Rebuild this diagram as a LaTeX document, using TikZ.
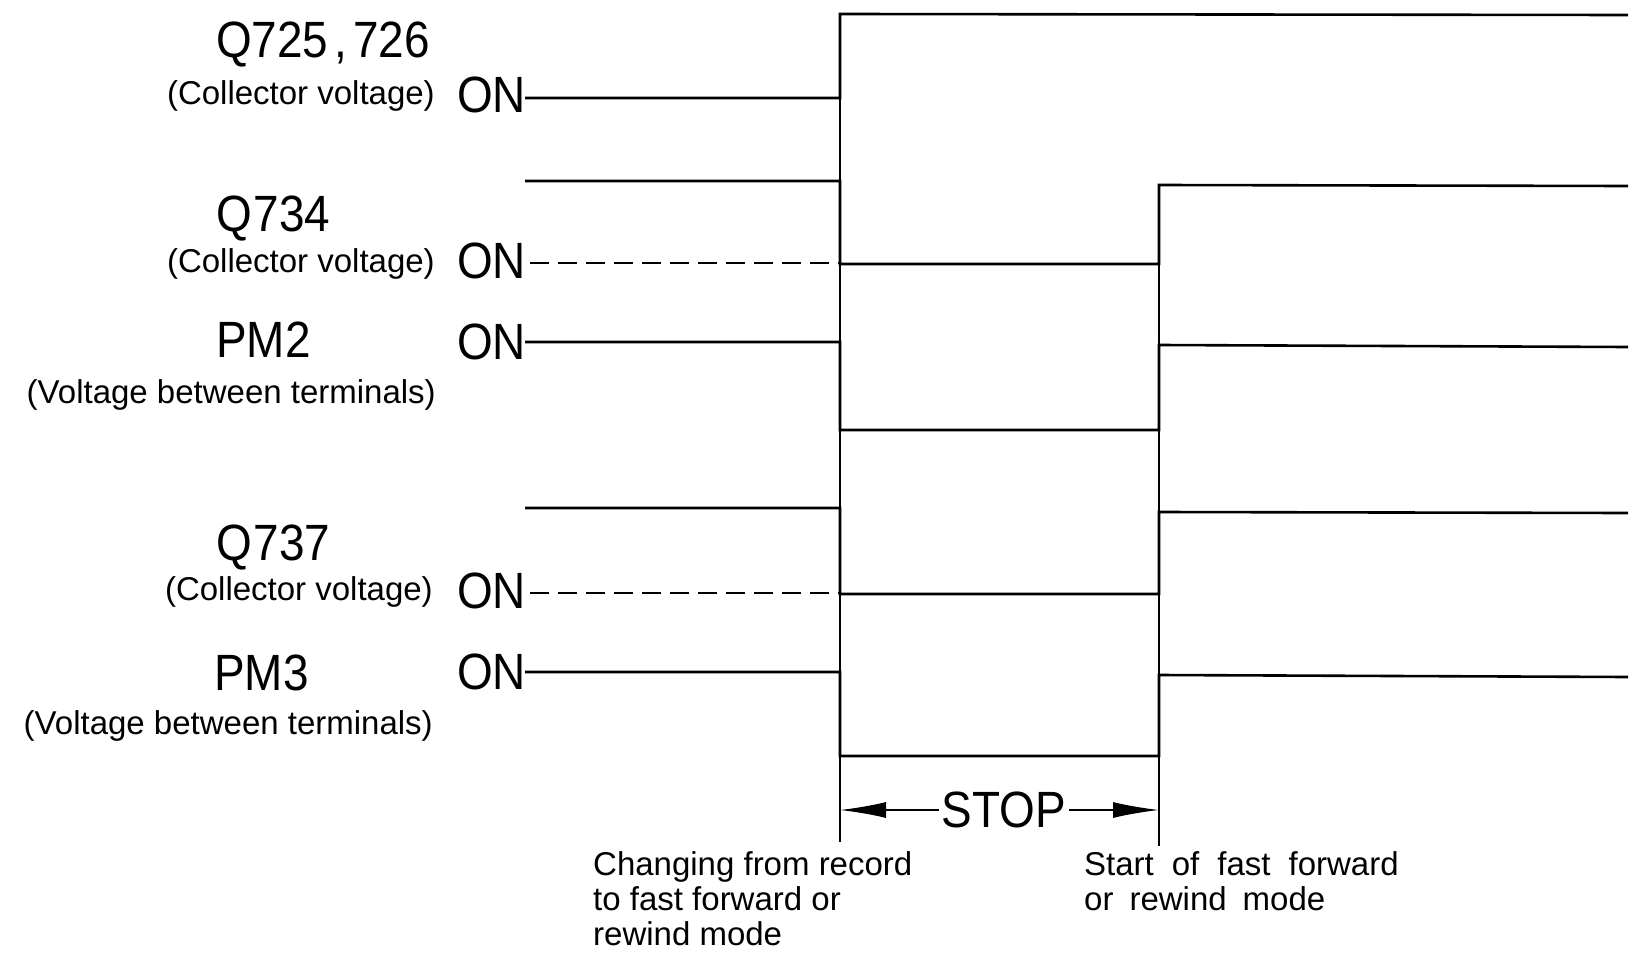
\documentclass[tikz,border=0pt]{standalone}
\usepackage{fontspec}
\setmainfont{Liberation Sans}
\newfontfamily\condfont[FakeStretch=0.9]{Liberation Sans}
\usetikzlibrary{arrows.meta}
\begin{document}
\begin{tikzpicture}[x=1pt,y=-1pt,
  sig/.style={line width=2.6pt, line join=miter},
  guide/.style={line width=1.6pt},
  dashsig/.style={line width=2.4pt, dash pattern=on 19pt off 9pt},
  biglbl/.style={anchor=base west, inner sep=0pt, font=\condfont\fontsize{51}{60}\selectfont},
  smalllbl/.style={anchor=base east, inner sep=0pt, font=\fontsize{33}{40}\selectfont},
  note/.style={anchor=base west, inner sep=0pt, font=\fontsize{33}{40}\selectfont},
  stoparrow/.style={line width=1.6pt, -{Latex[length=46pt,width=16pt]}}
]
\useasboundingbox (0,0) rectangle (1647,958);

% ---- labels ----
\node[biglbl] (q725) at (216,58) {Q725\hspace{6pt},\hspace{6pt}726};
\node[smalllbl] (q725s) at (435,104) {(Collector voltage)};
\node[biglbl] (on1) at (457,112) {ON};

\node[biglbl] (q734) at (216,231) {Q\hspace{2pt}734};
\node[smalllbl] (q734s) at (435,272) {(Collector voltage)};
\node[biglbl] (on2) at (457,278) {ON};

\node[biglbl] (pm2) at (216,357) {PM2};
\node[biglbl] (on3) at (457,359) {ON};
\node[smalllbl] (pm2s) at (436,403) {(Voltage between terminals)};

\node[biglbl] (q737) at (216,560) {Q\hspace{2pt}737};
\node[smalllbl] (q737s) at (433,600) {(Collector voltage)};
\node[biglbl] (on4) at (457,608) {ON};

\node[biglbl] (pm3) at (214,690) {PM3};
\node[biglbl] (on5) at (457,689) {ON};
\node[smalllbl] (pm3s) at (433,734) {(Voltage between terminals)};

% ---- guide lines ----
\coordinate (g1top) at (840,14);
\coordinate (g1bot) at (840,842);
\coordinate (g2top) at (1159,185);
\coordinate (g2bot) at (1159,846);
\draw[guide] (g1top) -- (g1bot);
\draw[guide] (g2top) -- (g2bot);

% ---- signals ----
% Q725,726
\draw[sig] (525,98) -- (840,98) -- (840,14) -- (1628,15);
% Q734
\draw[sig] (525,181) -- (840,181) -- (840,264) -- (1159,264) -- (1159,185) -- (1628,186);
\draw[dashsig] (530,263) -- (840,263);
% PM2
\draw[sig] (525,342) -- (840,342) -- (840,430) -- (1159,430) -- (1159,345) -- (1628,347);
% Q737
\draw[sig] (525,508) -- (840,508) -- (840,594) -- (1159,594) -- (1159,512) -- (1628,513);
\draw[dashsig] (530,593) -- (840,593);
% PM3
\draw[sig] (525,672) -- (840,672) -- (840,756) -- (1159,756) -- (1159,675) -- (1628,677);

% ---- STOP ----
\node[inner sep=3pt, font=\condfont\fontsize{51}{60}\selectfont] (stop) at (1004,810) {STOP};
\coordinate (sl) at (840,810);
\coordinate (sr) at (1159,810);
\draw[stoparrow] (stop.west) -- (sl);
\draw[stoparrow] (stop.east) -- (sr);

% ---- notes ----
\node[note] (n1a) at (593,875) {Changing from record};
\node[note] (n1b) at (593,910) {to fast forward or};
\node[note] (n1c) at (593,945) {rewind mode};
\node[note] (n2a) at (1084,875) {Start\hspace{18pt}of\hspace{18pt}fast\hspace{18pt}forward};
\node[note] (n2b) at (1084,910) {or\hspace{16pt}rewind\hspace{16pt}mode};
\end{tikzpicture}
\end{document}
